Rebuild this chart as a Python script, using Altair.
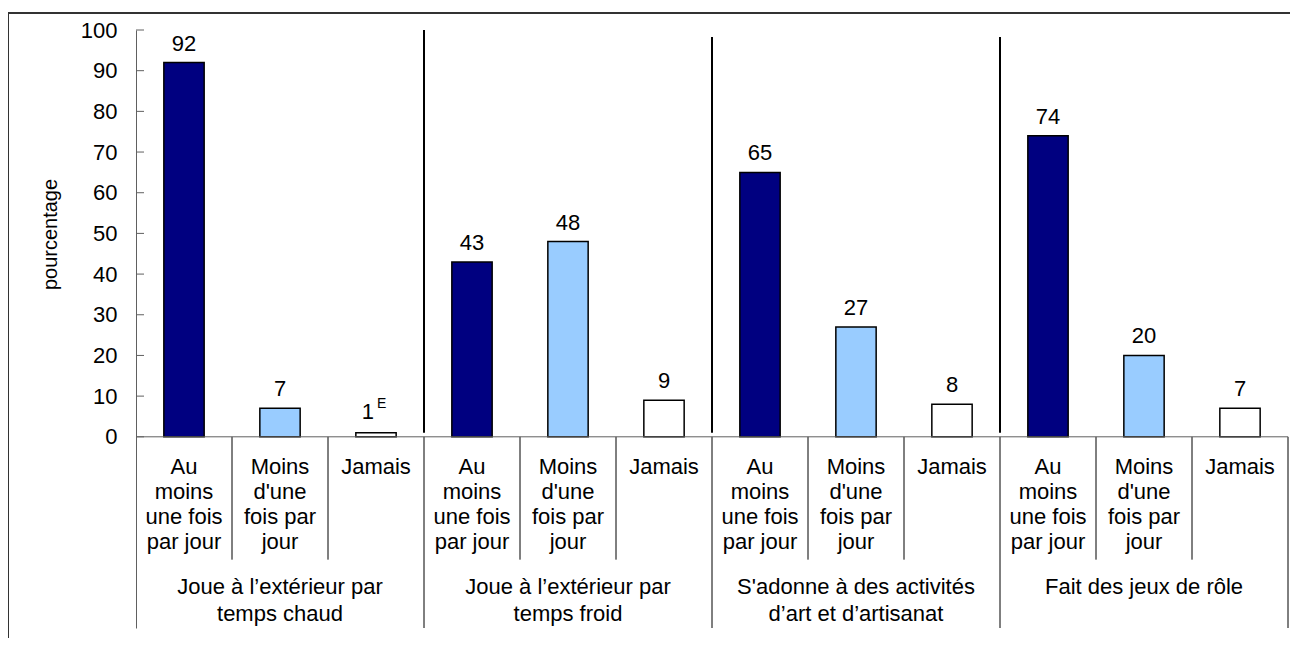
import altair as alt
import pandas as pd

# ---- data ----
groups = [
    "Joue à l’extérieur par\ntemps chaud",
    "Joue à l’extérieur par\ntemps froid",
    "S'adonne à des activités\nd’art et d’artisanat",
    "Fait des jeux de rôle",
]
categories = ["Au\nmoins\nune fois\npar jour", "Moins\nd'une\nfois par\njour", "Jamais"]
au_moins = [92, 43, 65, 74]
moins = [7, 48, 27, 20]
jamais = [1, 9, 8, 7]
jamais_flag = ["E", "", "", ""]
y_ticks = [0, 10, 20, 30, 40, 50, 60, 70, 80, 90, 100]
divider_tops = [100, 98.3, 98.3]

FONT = "Liberation Sans"
FS = 22
colors = ["#000080", "#99CCFF", "#FFFFFF"]

# layout constants (in data units of the chart's own scales)
Y_MIN, Y_MAX = -47, 100
SUB_BOTTOM = -30.2
SUB_LABEL_Y = -5.0
GRP_LABEL_Y = -34.4

series = [au_moins, moins, jamais]
rows = []
for gi, g in enumerate(groups):
    for ci, c in enumerate(categories):
        flag = jamais_flag[gi] if ci == 2 else ""
        rows.append({
            "group": g, "cat": c,
            "value": series[ci][gi],
            "label": str(series[ci][gi]),
            "flag": flag,
            "idx": gi * 3 + ci,
        })
df = pd.DataFrame(rows)
df["center"] = df["idx"] + 0.5
df["lo"] = df["center"] - 0.21
df["hi"] = df["center"] + 0.21
df["zero"] = 0.0
df["suby"] = SUB_LABEL_Y

ngrp = len(groups)
ntot = ngrp * len(categories)

xs = alt.Scale(domain=[0, ntot], nice=False, zero=False)
ys = alt.Scale(domain=[Y_MIN, Y_MAX], nice=False, zero=False)
yax = alt.Axis(
    values=y_ticks, ticks=False, labelPadding=19,
    labelFontSize=FS, labelFont=FONT, labelColor="black",
    domainColor="#606060", domainWidth=1, grid=False,
    title="pourcentage", titleFont=FONT, titleFontSize=20,
    titleFontWeight="normal", titleColor="black",
    titleX=-86, titleY=204, titleAngle=270, titleAlign="center",
    titleBaseline="middle")


def X(f):
    return alt.X(f, scale=xs, axis=None)


def Y(f):
    return alt.Y(f, scale=ys, axis=yax)


base = alt.Chart(df)

bars = base.mark_bar(stroke="black", strokeWidth=1.5).encode(
    x=X("lo:Q"), x2="hi:Q", y=Y("value:Q"), y2="zero:Q",
    color=alt.Color("cat:N", scale=alt.Scale(domain=categories, range=colors), legend=None),
)

labels_plain = base.transform_filter("datum.flag == ''").mark_text(
    baseline="alphabetic", dy=-12, fontSize=FS, font=FONT, color="black"
).encode(x=X("center:Q"), y=Y("value:Q"), text="label:N")

labels_flag_num = base.transform_filter("datum.flag != ''").mark_text(
    baseline="alphabetic", align="right", dx=-2, dy=-14, fontSize=FS, font=FONT, color="black"
).encode(x=X("center:Q"), y=Y("value:Q"), text="label:N")

labels_flag_sup = base.transform_filter("datum.flag != ''").mark_text(
    baseline="alphabetic", align="left", dx=1, dy=-25, fontSize=14, font=FONT, color="black"
).encode(x=X("center:Q"), y=Y("value:Q"), text="flag:N")

sub_labels = base.mark_text(
    baseline="top", align="center", fontSize=FS, font=FONT, color="black",
    lineBreak="\n", lineHeight=25
).encode(x=X("center:Q"), y=Y("suby:Q"), text="cat:N")

# y ticks (pointing inward)
tick_df = pd.DataFrame({"t": y_ticks})
tick_df["x0"] = 0.0
tick_df["x1"] = 8 / 96
ticks = alt.Chart(tick_df).mark_rule(color="#606060", strokeWidth=1).encode(
    x=X("x0:Q"), x2="x1:Q", y=Y("t:Q"))

# x axis line
axis_df = pd.DataFrame({"a": [0.0], "b": [float(ntot)], "y": [0.0]})
xaxis = alt.Chart(axis_df).mark_rule(color="#606060", strokeWidth=1).encode(
    x=X("a:Q"), x2="b:Q", y=Y("y:Q"))

# group dividers inside plot
gdiv_df = pd.DataFrame({"x": [3.0 * (i + 1) for i in range(ngrp - 1)], "top": divider_tops})
gdiv_df["bot"] = 1.0
gdiv_plot = alt.Chart(gdiv_df).mark_rule(color="black", strokeWidth=2).encode(
    x=X("x:Q"), y=Y("top:Q"), y2="bot:Q")

# group dividers below axis (including right border)
gdiv_low_df = pd.DataFrame({"x": [3.0 * (i + 1) for i in range(ngrp)]})
gdiv_low_df["a"] = 0.0
gdiv_low_df["b"] = float(Y_MIN)
gdiv_low = alt.Chart(gdiv_low_df).mark_rule(color="black", strokeWidth=1).encode(
    x=X("x:Q"), y=Y("a:Q"), y2="b:Q")

# sub-category dividers
sub_df = pd.DataFrame({"x": [float(i) for i in range(1, ntot) if i % 3 != 0]})
sub_df["a"] = 0.0
sub_df["b"] = SUB_BOTTOM
sub_div = alt.Chart(sub_df).mark_rule(color="black", strokeWidth=1).encode(
    x=X("x:Q"), y=Y("a:Q"), y2="b:Q")

grp_df = pd.DataFrame({"group": groups})
grp_df["center"] = [3 * i + 1.5 for i in range(ngrp)]
grp_df["y"] = GRP_LABEL_Y
grp_labels = alt.Chart(grp_df).mark_text(
    baseline="top", align="center", fontSize=FS, font=FONT, color="black",
    lineBreak="\n", lineHeight=27
).encode(x=X("center:Q"), y=Y("y:Q"), text="group:N")

# outer frame (top and left edges), placed just outside the plot area
fx0, fx1 = -128 / 96, 1170 / 96
fy_top = Y_MAX + 17 * (Y_MAX - Y_MIN) / 598
fy_bot = Y_MIN - 25 * (Y_MAX - Y_MIN) / 598
frame_h_df = pd.DataFrame({"x0": [fx0], "x1": [fx1], "y0": [fy_top]})
frame_v_df = pd.DataFrame({"x0": [fx0], "y0": [fy_top], "y1": [fy_bot]})
frame_h = alt.Chart(frame_h_df).mark_rule(color="#333333", strokeWidth=2).encode(
    x=X("x0:Q"), x2="x1:Q", y=Y("y0:Q"))
frame_v = alt.Chart(frame_v_df).mark_rule(color="#333333", strokeWidth=2).encode(
    x=X("x0:Q"), y=Y("y0:Q"), y2="y1:Q")

chart = alt.layer(
    frame_h, frame_v,
    gdiv_plot, gdiv_low, sub_div,
    bars, ticks, xaxis,
    labels_plain, labels_flag_num, labels_flag_sup,
    sub_labels, grp_labels,
).properties(
    width=1152, height=598,
    autosize=alt.AutoSizeParams(type="none"),
    padding={"left": 128, "top": 22, "right": 2, "bottom": 10},
    background="white",
).configure_view(stroke=None)

chart.save("out.html", embed_options={"renderer": "svg", "actions": False})
